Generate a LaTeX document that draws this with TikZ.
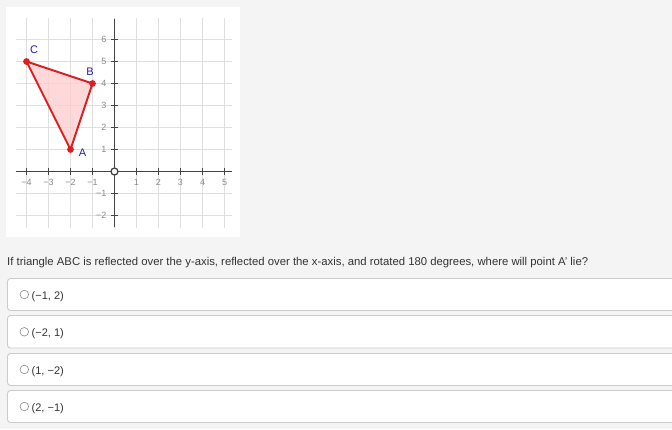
\documentclass[tikz,border=0pt]{standalone}
\usepackage{fontspec}
\setmainfont{Liberation Sans}
\usepackage{graphicx}
\definecolor{pagebg}{HTML}{F4F4F4}
\definecolor{gridc}{HTML}{DFDFDF}
\definecolor{axisc}{HTML}{444444}
\definecolor{tickc}{HTML}{8A8A8A}
\definecolor{triedge}{RGB}{218,32,32}
\definecolor{trifill}{RGB}{255,205,205}
\definecolor{ptlabel}{RGB}{40,30,165}
\definecolor{boxedge}{HTML}{CBCBCB}
\definecolor{radioc}{HTML}{8A8A8A}
\definecolor{textc}{HTML}{333333}
\tikzset{
  gridline/.style={gridc, line width=1.5pt},
  axisline/.style={axisc, line width=1.4pt},
  ticklab/.style={text=tickc, font=\fontsize{9}{10}\selectfont, inner sep=0pt},
  ptlab/.style={text=ptlabel, font=\fontsize{11}{12}\selectfont, inner sep=0pt},
  optbox/.style={draw=boxedge, fill=white, line width=0.9pt, rounded corners=3pt},
  radio/.style={draw=radioc, fill=white, line width=0.6pt, circle, minimum size=8.6pt, inner sep=0pt},
  opttext/.style={text=textc, font=\fontsize{11}{12}\selectfont, inner sep=0pt, anchor=west},
}
\begin{document}
\begin{tikzpicture}[x=1pt,y=-1pt]
\useasboundingbox (0,0) rectangle (672,429);
\clip (0,0) rectangle (672,429);
\fill[pagebg] (0,0) rectangle (672,429);
% graph panel
\fill[white] (6,7) rectangle (239.5,237);
\begin{scope}[shift={(114.5,171.5)}, x=22pt, y=22pt]
  % grid
  \foreach \i in {-4,...,5} \draw[gridline] (\i,-2.56) -- (\i,6.97);
  \foreach \j in {-2,...,6} \draw[gridline] (-4.5,\j) -- (5.36,\j);
  % triangle
  \coordinate (A) at (-2,1);
  \coordinate (B) at (-1,4);
  \coordinate (C) at (-4,5);
  \fill[trifill, fill opacity=0.75] (A) -- (B) -- (C) -- cycle;
  % axes
  \draw[axisline] (-4.5,0) -- (5.36,0);
  \draw[axisline] (0,-2.52) -- (0,6.93);
  \foreach \i in {-4,...,-1,1,2,...,5} {
    \draw[axisline] (\i,-0.14) -- (\i,0.14);
    \node[ticklab, anchor=north] at ([yshift=-8pt]\i,0) {\ifnum\i<0 −\number-\i\else\i\fi};
  }
  \foreach \j in {-2,-1,1,2,...,6} {
    \draw[axisline] (-0.14,\j) -- (0.14,\j);
    \node[ticklab, anchor=east] at ([xshift=-8pt]0,\j) {\ifnum\j<0 −\number-\j\else\j\fi};
  }
  \node[draw=axisc, line width=1.3pt, fill=white, circle, minimum size=7pt, inner sep=0pt] (O) at (0,0) {};
  % triangle edges and vertices
  \draw[triedge, line width=2pt, line join=round] (A) -- (B) -- (C) -- cycle;
  \foreach \p in {A,B,C} \fill[triedge] (\p) circle (3.4pt);
\end{scope}
\node[ptlab] (labC) at (34,50) {C};
\node[ptlab] (labB) at (90,71.7) {B};
\node[ptlab] (labA) at (82.5,153) {A};
% question
\node[inner sep=0pt, anchor=west, text=textc] (q) at (7,262.6) {\resizebox{581pt}{!}{\fontsize{11}{12}\selectfont If triangle ABC is reflected over the y-axis, reflected over the x-axis, and rotated 180 degrees, where will point A' lie?}};
% options
\draw[optbox] (7.5,278.5) rectangle (690,310.5);
\draw[optbox] (7.5,315.5) rectangle (690,348);
\draw[optbox] (7.5,353.5) rectangle (690,385.5);
\draw[optbox] (7.5,390.5) rectangle (690,422.5);
\node[radio] (r1) at (24.3,294.5) {};
\node[radio] (r2) at (24.3,331.8) {};
\node[radio] (r3) at (24.3,369.5) {};
\node[radio] (r4) at (24.3,406.5) {};
\node[opttext] (o1) at (31.5,296.3) {(−1, 2)};
\node[opttext] (o2) at (31.5,333.6) {(−2, 1)};
\node[opttext] (o3) at (31.5,371.3) {(1, −2)};
\node[opttext] (o4) at (31.5,408.3) {(2, −1)};
\end{tikzpicture}
\end{document}
